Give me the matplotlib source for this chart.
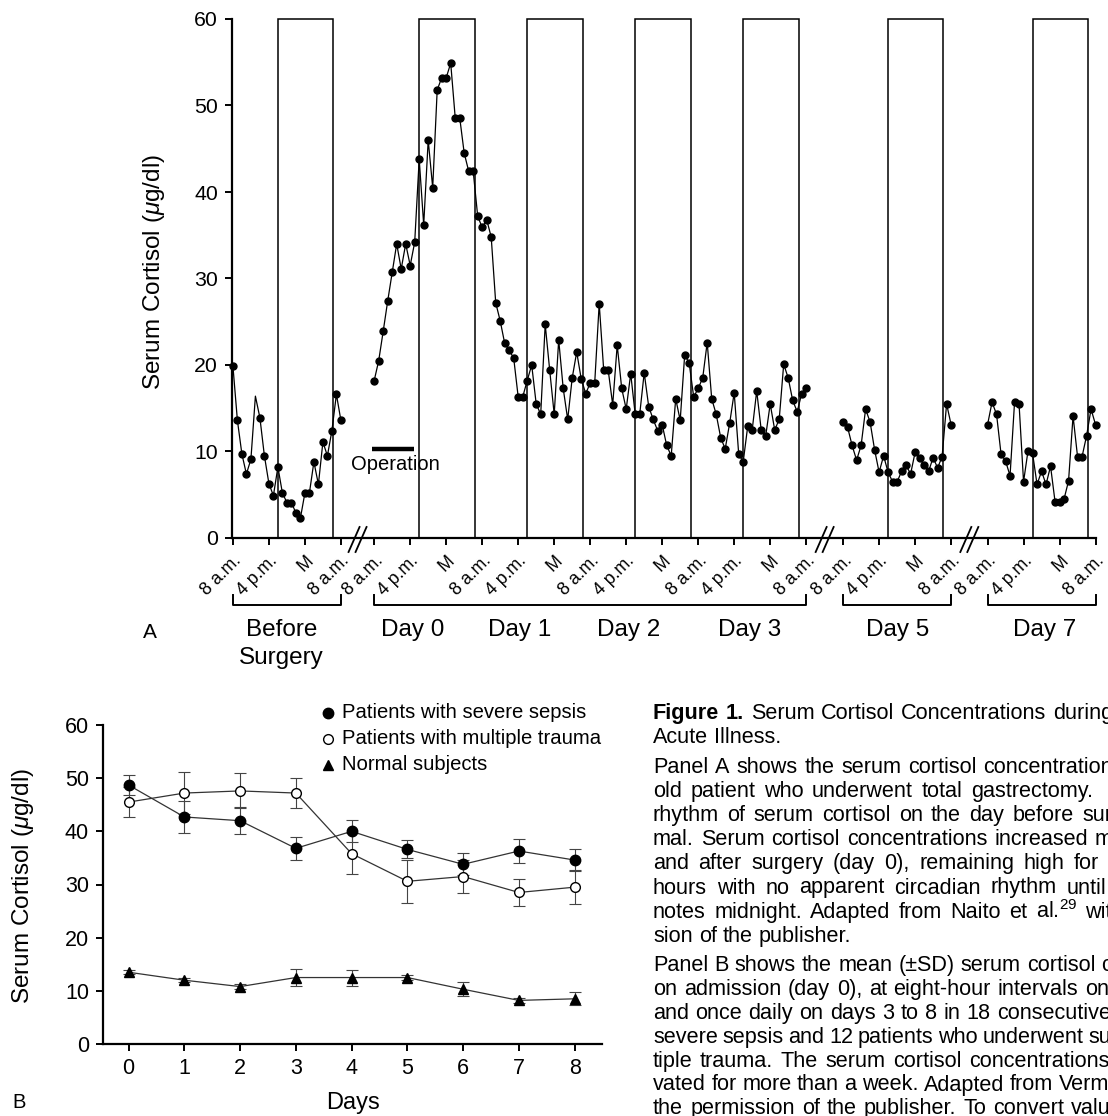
import matplotlib
matplotlib.use("Agg")
import matplotlib.pyplot as plt
import matplotlib.transforms as mtransforms
from matplotlib.patches import Rectangle
from matplotlib.lines import Line2D
import numpy as np

plt.rcParams['font.family'] = ['Liberation Sans', 'DejaVu Sans']
plt.rcParams['mathtext.fontset'] = 'custom'
plt.rcParams['mathtext.rm'] = 'Liberation Sans'
plt.rcParams['mathtext.it'] = 'Liberation Sans:italic'
plt.rcParams['mathtext.bf'] = 'Liberation Sans:bold'

W, H = 1108, 1116

# ---------------- Panel A data (hourly serum cortisol, ug/dl) ----------------
before_surgery = [19.9, 13.6, 9.7, 7.4, 9.1, 16.4, 13.9, 9.5, 6.3, 4.9, 8.2, 5.2, 4.1,
                  4.1, 2.9, 2.3, 5.2, 5.2, 8.8, 6.2, 11.1, 9.5, 12.4, 16.6, 13.6]
days_0_to_3 = [18.2, 20.5, 23.9, 27.4, 30.7, 34.0, 31.1, 34.0, 31.5, 34.2, 43.8, 36.2,
               46.0, 40.5, 51.8, 53.2, 53.2, 54.9, 48.6, 48.6, 44.5, 42.4, 42.4, 37.2,
               35.9, 36.8, 34.8, 27.2, 25.1, 22.5, 21.7, 20.8, 16.3, 16.3, 18.2, 20.0,
               15.5, 14.3, 24.7, 19.4, 14.3, 22.9, 17.3, 13.7, 18.5, 21.5, 18.4, 16.7,
               17.9, 17.9, 27.1, 19.4, 19.4, 15.4, 22.3, 17.3, 14.9, 19.0, 14.3, 14.3,
               19.1, 15.2, 13.7, 12.4, 13.1, 10.7, 9.5, 16.1, 13.6, 21.2, 20.2, 16.3,
               17.3, 18.5, 22.6, 16.1, 14.3, 11.6, 10.3, 13.3, 16.8, 9.7, 8.8, 12.9,
               12.5, 17.0, 12.5, 11.8, 15.5, 12.5, 13.7, 20.1, 18.5, 15.9, 14.6, 16.7,
               17.3]
day_5 = [13.4, 12.8, 10.7, 9.0, 10.7, 14.9, 13.4, 10.2, 7.6, 9.5, 7.6, 6.5, 6.5,
         7.7, 8.4, 7.4, 9.9, 9.2, 8.4, 7.7, 9.3, 8.1, 9.4, 15.5, 13.1]
day_7 = [13.1, 15.7, 14.3, 9.7, 8.9, 7.2, 15.7, 15.5, 6.5, 10.1, 9.8, 6.2, 7.7,
         6.2, 8.3, 4.2, 4.2, 4.5, 6.6, 14.1, 9.4, 9.4, 11.8, 14.9, 13.1]
segment_series = [before_surgery, days_0_to_3, day_5, day_7]
segment_hours = [24, 96, 24, 24]
tick_cycle = ['8 a.m.', '4 p.m.', 'M']
group_labels = ['Before', 'Day 0', 'Day 1', 'Day 2', 'Day 3', 'Day 5', 'Day 7']
group_label_seg = [0, 1, 1, 1, 1, 2, 3]

# ---------------- Panel B data ----------------
days = [0, 1, 2, 3, 4, 5, 6, 7, 8]
sepsis_mean = [48.7, 42.7, 42.0, 36.8, 40.0, 36.6, 33.8, 36.3, 34.6]
sepsis_sd = [1.9, 3.0, 2.5, 2.2, 2.1, 1.7, 2.1, 2.2, 2.1]
trauma_mean = [45.5, 47.2, 47.6, 47.2, 35.8, 30.6, 31.5, 28.5, 29.5]
trauma_sd = [2.8, 3.9, 3.3, 2.8, 3.8, 4.0, 3.1, 2.6, 3.2]
normal_mean = [13.5, 12.0, 10.8, 12.5, 12.5, 12.5, 10.3, 8.2, 8.5]
normal_sd = [0.4, 0.4, 0.4, 1.6, 1.5, 0.5, 1.3, 0.4, 1.2]
legend_labels = ['Patients with severe sepsis', 'Patients with multiple trauma',
                 'Normal subjects']

# ---------------- layout (display hours) ----------------
segment_start = [0.0, 31.4, 135.6, 167.7]
night_start, night_end = 10.0, 22.3
group_label_off = [10.8, 8.6, 32.4, 56.6, 83.5, 12.2, 12.7]
hidden_marker = {0: [5]}

fig = plt.figure(figsize=(W / 100, H / 100), dpi=100)
ident = mtransforms.IdentityTransform()


def fy(py):
    return H - py


# ================= Panel A =================
axA = fig.add_axes([232 / W, 1 - 538 / H, 864 / W, 519 / H])
axA.set_xlim(-0.2, 191.8)
axA.set_ylim(0, 60)

for s, (start, vals, span) in enumerate(zip(segment_start, segment_series, segment_hours)):
    for d in range(span // 24):
        axA.add_patch(Rectangle((start + 24 * d + night_start, 0), night_end - night_start, 60,
                                facecolor='white', edgecolor='black', lw=1.1, zorder=1,
                                clip_on=False))
    x = start + np.arange(len(vals))
    v = np.array(vals)
    axA.plot(x, v, color='black', lw=0.9, zorder=3, clip_on=False)
    mk = [i for i in range(len(vals)) if i not in hidden_marker.get(s, [])]
    axA.plot(x[mk], v[mk], 'o', ms=5.0, color='black', zorder=4, clip_on=False)

ticks, labels = [], []
for start, span in zip(segment_start, segment_hours):
    for k in range(span // 8 + 1):
        ticks.append(start + 8 * k)
        labels.append(tick_cycle[k % 3])
axA.set_xticks(ticks)
axA.set_xticklabels(labels, rotation=45, ha='right', va='top', rotation_mode='anchor',
                    fontsize=12.8)
axA.set_yticks(range(0, 61, 10))
axA.tick_params(axis='both', length=5, width=1.4, direction='out')
axA.tick_params(axis='x', pad=5)
axA.tick_params(axis='y', labelsize=15.3, pad=5)
for sp in ['top', 'right']:
    axA.spines[sp].set_visible(False)
for sp in ['left', 'bottom']:
    axA.spines[sp].set_linewidth(1.6)

fig.text(154 / W, 1 - 272 / H, 'Serum Cortisol ($\\mu$g/dl)', rotation=90,
         ha='center', va='center', fontsize=17.5)

# operation bar
op_start, op_end, op_level = segment_start[1] - 0.4, segment_start[1] + 8.9, 10.3
axA.plot([op_start, op_end], [op_level, op_level], color='black', lw=3.2,
         solid_capstyle='butt', zorder=5)
axA.text(segment_start[1] + 4.6, 8.55, 'Operation', ha='center', va='center',
         fontsize=14.5, zorder=5)

fig.canvas.draw()
# axis breaks
ends = [s + h for s, h in zip(segment_start, segment_hours)]
for i in range(3):
    xm = (ends[i] + segment_start[i + 1]) / 2
    px, py = axA.transData.transform((xm, 0))
    for off in (-3.5, 3.5):
        fig.add_artist(Line2D([px + off - 5.5, px + off + 5.5], [py - 14, py + 11],
                              transform=ident, color='black', lw=1.3))

# brackets + group labels
for start, span in zip(segment_start, segment_hours):
    x0 = axA.transData.transform((start, 0))[0]
    x1 = axA.transData.transform((start + span, 0))[0]
    fig.add_artist(Line2D([x0, x0, x1, x1], [fy(595), fy(605), fy(605), fy(595)],
                          transform=ident, color='black', lw=1.4))
for lab, sidx, off in zip(group_labels, group_label_seg, group_label_off):
    px = axA.transData.transform((segment_start[sidx] + off, 0))[0]
    fig.text(px, fy(636), lab, transform=ident, ha='center', va='baseline', fontsize=17.5)
    if lab == 'Before':
        fig.text(px, fy(664), 'Surgery', transform=ident, ha='center', va='baseline',
                 fontsize=17.5)
fig.text(150, fy(633), 'A', transform=ident, ha='center', va='center', fontsize=15)

# ================= Panel B =================
axB = fig.add_axes([103 / W, 1 - 1044 / H, 498.7 / W, 319 / H])
axB.set_xlim(-0.459, 8.485)
axB.set_ylim(0, 60)
eb = dict(ecolor='#444444', elinewidth=0.8, capsize=4, capthick=0.8, zorder=2)
axB.errorbar(days, normal_mean, yerr=normal_sd, fmt='none', **eb)
axB.errorbar(days, trauma_mean, yerr=trauma_sd, fmt='none', **eb)
axB.errorbar(days, sepsis_mean, yerr=sepsis_sd, fmt='none', **eb)
axB.plot(days, normal_mean, color='#333333', lw=0.9, marker='^', ms=7.5, mfc='black',
         mec='black', zorder=3)
axB.plot(days, trauma_mean, color='#333333', lw=0.9, marker='o', ms=7, mfc='white',
         mec='black', mew=1.0, zorder=3)
axB.plot(days, sepsis_mean, color='#333333', lw=0.9, marker='o', ms=7.5, mfc='black',
         mec='black', zorder=4)
axB.set_xticks(days)
axB.set_yticks(range(0, 61, 10))
axB.tick_params(axis='both', length=5, width=1.4, labelsize=15.5, pad=5)
for sp in ['top', 'right']:
    axB.spines[sp].set_visible(False)
for sp in ['left', 'bottom']:
    axB.spines[sp].set_linewidth(1.6)
fig.text(23 / W, 1 - 886 / H, 'Serum Cortisol ($\\mu$g/dl)', rotation=90,
         ha='center', va='center', fontsize=17.5)
fig.text(353, fy(1103), 'Days', transform=ident, ha='center', va='center', fontsize=17)
fig.text(19, fy(1103), 'B', transform=ident, ha='center', va='center', fontsize=14.5)

legend_style = [dict(marker='o', ms=7.5, mfc='black', mec='black'),
                dict(marker='o', ms=7, mfc='white', mec='black', mew=1.0),
                dict(marker='^', ms=7.5, mfc='black', mec='black')]
for i, (lab, st) in enumerate(zip(legend_labels, legend_style)):
    yrow = 713 + 26 * i
    fig.add_artist(Line2D([328], [fy(yrow)], transform=ident, ls='none', **st))
    fig.text(342, fy(yrow), lab, transform=ident, ha='left', va='center', fontsize=14.6)

# ================= Caption =================
renderer = fig.canvas.get_renderer()
CAP = 15.6
X0 = 653


def text_w(s, weight='normal'):
    t = fig.text(0, 0, s, transform=ident, fontsize=CAP, fontweight=weight)
    w = t.get_window_extent(renderer).width
    t.remove()
    return w


space_w = text_w('a a') - text_w('aa')


def caption_line(words, ycen, right=None):
    ws = [text_w(t, wt) for t, wt in words]
    gap = space_w
    if right is not None and len(words) > 1:
        g = (right - X0 - sum(ws)) / (len(words) - 1)
        if g > 0.6 * space_w:
            gap = g
    x = X0
    for (t, wt), w in zip(words, ws):
        fig.text(x, fy(ycen + 6), t, transform=ident, fontsize=CAP, fontweight=wt,
                 ha='left', va='baseline')
        x += w + gap


def plain(s):
    return [(w, 'normal') for w in s.split(' ')]


caption_line([('Figure', 'bold'), ('1.', 'bold')] +
             plain('Serum Cortisol Concentrations during'), 713, 1113)
caption_line(plain('Acute Illness.'), 737)
para_a = [('Panel A shows the serum cortisol concentration', 1113),
          ('old patient who underwent total gastrectomy.', 1093),
          ('rhythm of serum cortisol on the day before sur', 1112),
          ('mal. Serum cortisol concentrations increased m', 1113),
          ('and after surgery (day 0), remaining high for', 1099),
          ('hours with no apparent circadian rhythm until', 1106),
          ('notes midnight. Adapted from Naito et al.$^{29}$ wit', 1112),
          ('sion of the publisher.', None)]
for k, (s, r) in enumerate(para_a):
    caption_line(plain(s), 767 + 24.1 * k, r)
para_b = [('Panel B shows the mean (\u00b1SD) serum cortisol c', 1112),
          ('on admission (day 0), at eight-hour intervals on', 1109),
          ('and once daily on days 3 to 8 in 18 consecutive', 1111),
          ('severe sepsis and 12 patients who underwent su', 1111),
          ('tiple trauma. The serum cortisol concentrations', 1109),
          ('vated for more than a week. Adapted from Verm', 1109),
          ('the permission of the publisher. To convert valu', 1111)]
for k, (s, r) in enumerate(para_b):
    caption_line(plain(s), 965 + 23.9 * k, r)

fig.savefig('out.png', dpi=100)
